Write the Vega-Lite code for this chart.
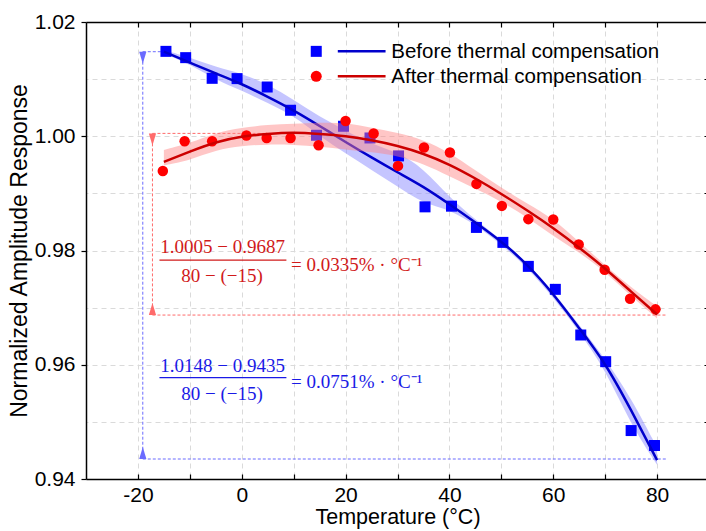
{
  "$schema": "https://vega.github.io/schema/vega-lite/v6.json",
  "autosize": "none",
  "width": 623,
  "height": 457,
  "padding": {"left": 86, "top": 22, "right": 0, "bottom": 52},
  "background": "white",
  "config": {
    "view": {"stroke": null},
    "axis": {
      "domainColor": "#000000",
      "domainWidth": 1.5,
      "tickColor": "#000000",
      "tickWidth": 1.2,
      "labelColor": "#000000",
      "titleColor": "#000000",
      "titleFontWeight": "normal",
      "gridColor": "#dadada",
      "gridDash": [5, 4],
      "gridWidth": 1
    }
  },
  "datasets": {
    "before": [
      {"T": -14.6, "v": 1.01486}, {"T": -10.8, "v": 1.01376}, {"T": -5.7, "v": 1.01014},
      {"T": -0.9, "v": 1.01009}, {"T": 4.9, "v": 1.00862}, {"T": 9.4, "v": 1.00455},
      {"T": 14.4, "v": 1.00017}, {"T": 19.6, "v": 1.00175}, {"T": 24.7, "v": 0.9997},
      {"T": 30.2, "v": 0.99656}, {"T": 35.3, "v": 0.98764}, {"T": 40.4, "v": 0.98776},
      {"T": 45.2, "v": 0.98404}, {"T": 50.3, "v": 0.98142}, {"T": 55.2, "v": 0.97722},
      {"T": 60.4, "v": 0.9732}, {"T": 65.3, "v": 0.96521}, {"T": 70.1, "v": 0.96054},
      {"T": 75.0, "v": 0.94848}, {"T": 79.5, "v": 0.94586}
    ],
    "after": [
      {"T": -15.2, "v": 0.99393}, {"T": -11.0, "v": 0.99913}, {"T": -5.7, "v": 0.99913},
      {"T": 0.9, "v": 1.00012}, {"T": 4.8, "v": 0.9997}, {"T": 9.4, "v": 0.9997},
      {"T": 14.8, "v": 0.99843}, {"T": 20.0, "v": 1.00267}, {"T": 25.4, "v": 1.00047},
      {"T": 30.1, "v": 0.99481}, {"T": 35.1, "v": 0.99802}, {"T": 40.1, "v": 0.99715},
      {"T": 45.2, "v": 0.99166}, {"T": 50.1, "v": 0.98781}, {"T": 55.2, "v": 0.98549},
      {"T": 60.0, "v": 0.98544}, {"T": 64.9, "v": 0.98107}, {"T": 69.9, "v": 0.97663},
      {"T": 74.8, "v": 0.97156}, {"T": 79.7, "v": 0.9697}
    ],
    "fitBefore": [
      {"T": -15, "v": 1.0148, "lo": 1.0145, "hi": 1.0151},
      {"T": -10, "v": 1.0129, "lo": 1.0126, "hi": 1.0138},
      {"T": -5, "v": 1.0110, "lo": 1.0099, "hi": 1.0121},
      {"T": 0, "v": 1.0091, "lo": 1.0080, "hi": 1.0110},
      {"T": 5, "v": 1.0069, "lo": 1.0058, "hi": 1.0091},
      {"T": 10, "v": 1.0045, "lo": 1.0036, "hi": 1.0064},
      {"T": 15, "v": 1.0018, "lo": 1.0000, "hi": 1.0034},
      {"T": 20, "v": 0.9990, "lo": 0.9970, "hi": 1.0010},
      {"T": 25, "v": 0.9963, "lo": 0.9941, "hi": 0.9986},
      {"T": 30, "v": 0.9937, "lo": 0.9912, "hi": 0.9972},
      {"T": 35, "v": 0.9911, "lo": 0.9882, "hi": 0.9944},
      {"T": 40, "v": 0.9881, "lo": 0.9872, "hi": 0.9893},
      {"T": 45, "v": 0.9849, "lo": 0.9845, "hi": 0.9854},
      {"T": 50, "v": 0.9815, "lo": 0.9811, "hi": 0.9819},
      {"T": 55, "v": 0.9774, "lo": 0.9770, "hi": 0.9778},
      {"T": 60, "v": 0.9723, "lo": 0.9718, "hi": 0.9728},
      {"T": 65, "v": 0.9664, "lo": 0.9658, "hi": 0.9670},
      {"T": 70, "v": 0.9600, "lo": 0.9592, "hi": 0.9610},
      {"T": 75, "v": 0.9520, "lo": 0.9494, "hi": 0.9542},
      {"T": 80, "v": 0.9433, "lo": 0.9425, "hi": 0.9455}
    ],
    "fitAfter": [
      {"T": -15, "v": 0.9955, "lo": 0.9949, "hi": 0.9976},
      {"T": -10, "v": 0.9973, "lo": 0.9958, "hi": 0.9988},
      {"T": -5, "v": 0.9989, "lo": 0.9976, "hi": 1.0006},
      {"T": 0, "v": 0.9999, "lo": 0.9983, "hi": 1.0015},
      {"T": 5, "v": 1.0004, "lo": 0.9986, "hi": 1.0020},
      {"T": 10, "v": 1.0006, "lo": 0.9985, "hi": 1.0022},
      {"T": 15, "v": 1.0004, "lo": 0.9982, "hi": 1.0024},
      {"T": 20, "v": 1.0000, "lo": 0.9977, "hi": 1.0024},
      {"T": 25, "v": 0.9993, "lo": 0.9972, "hi": 1.0015},
      {"T": 30, "v": 0.9983, "lo": 0.9966, "hi": 1.0006},
      {"T": 35, "v": 0.9969, "lo": 0.9952, "hi": 0.9994},
      {"T": 40, "v": 0.9950, "lo": 0.9930, "hi": 0.9972},
      {"T": 45, "v": 0.9926, "lo": 0.9908, "hi": 0.9940},
      {"T": 50, "v": 0.9899, "lo": 0.9886, "hi": 0.9910},
      {"T": 55, "v": 0.9870, "lo": 0.9858, "hi": 0.9882},
      {"T": 60, "v": 0.9839, "lo": 0.9825, "hi": 0.9856},
      {"T": 65, "v": 0.9805, "lo": 0.9797, "hi": 0.9815},
      {"T": 70, "v": 0.9768, "lo": 0.9763, "hi": 0.9774},
      {"T": 75, "v": 0.9728, "lo": 0.9720, "hi": 0.9735},
      {"T": 80, "v": 0.9688, "lo": 0.9681, "hi": 0.9702}
    ],
    "guides": [
      {"series": "before", "T": -19.06, "T2": -19.06, "v": 1.0148, "v2": 0.9435},
      {"series": "before", "T": -19.06, "T2": -14.6, "v": 1.0148, "v2": 1.0148},
      {"series": "before", "T": -19.06, "T2": 82, "v": 0.9435, "v2": 0.9435},
      {"series": "after", "T": -17.2, "T2": -17.2, "v": 1.0005, "v2": 0.9687},
      {"series": "after", "T": -17.2, "T2": 12, "v": 1.0005, "v2": 1.0005},
      {"series": "after", "T": -17.2, "T2": 82, "v": 0.9687, "v2": 0.9687}
    ],
    "arrowsDown": [
      {"series": "before", "T": -19.06, "v": 1.0148},
      {"series": "after", "T": -17.2, "v": 1.0005}
    ],
    "arrowsUp": [
      {"series": "before", "T": -19.06, "v": 0.9435},
      {"series": "after", "T": -17.2, "v": 0.9687}
    ],
    "fractionBars": [
      {"series": "after", "T": -15.85, "T2": 8.6, "v": 0.97832},
      {"series": "before", "T": -15.85, "T2": 8.6, "v": 0.95774}
    ],
    "fractionText": [
      {"series": "after", "T": -3.7, "v": 0.97949, "text": "1.0005 − 0.9687"},
      {"series": "after", "T": -3.8, "v": 0.97453, "text": "80 − (−15)"},
      {"series": "before", "T": -3.7, "v": 0.95879, "text": "1.0148 − 0.9435"},
      {"series": "before", "T": -3.8, "v": 0.95385, "text": "80 − (−15)"}
    ],
    "resultText": [
      {"series": "after", "T": 9.5, "v": 0.97745, "text": "= 0.0335% · °C⁻¹"},
      {"series": "before", "T": 9.5, "v": 0.95694, "text": "= 0.0751% · °C⁻¹"}
    ],
    "legendRows": [
      {"series": "before", "T": 14.35, "Tl": 18.5, "Tl2": 27.7, "Tt": 28.8, "v": 1.01486, "label": "Before thermal compensation"},
      {"series": "after", "T": 14.35, "Tl": 18.5, "Tl2": 27.7, "Tt": 28.8, "v": 1.01049, "label": "After thermal compensation"}
    ]
  },
  "layer": [
    {
      "data": {"name": "fitBefore"},
      "mark": {"type": "area", "color": "#8c8cff", "opacity": 0.5, "interpolate": "basis"},
      "encoding": {
        "x": {"field": "T", "type": "quantitative", "scale": {"domain": [-30, 90], "nice": false},
          "axis": {
            "orient": "bottom",
            "values": [-20, -10, 0, 10, 20, 30, 40, 50, 60, 70, 80],
            "labelExpr": "datum.value % 20 === 0 ? '' + datum.value : ''",
            "tickSize": -5,
            "grid": true,
            "labelFont": "Liberation Sans, Arial",
            "labelFontSize": 21,
            "labelPadding": 10,
            "labelFlush": false,
            "title": "Temperature (°C)",
            "titleFont": "Liberation Sans, Arial",
            "titleFontSize": 21.5,
            "titlePadding": 1
          }},
        "y": {"field": "lo", "type": "quantitative", "scale": {"domain": [0.94, 1.02], "nice": false, "zero": false},
          "axis": {
            "orient": "left",
            "values": [0.94, 0.96, 0.98, 1.0, 1.02],
            "format": ".2f",
            "tickSize": 5,
            "grid": false,
            "labelFont": "Liberation Sans, Arial",
            "labelFontSize": 21,
            "labelPadding": 6,
            "labelFlush": false,
            "title": "Normalized Amplitude Response",
            "titleFont": "Liberation Sans, Arial",
            "titleFontSize": 23,
            "titlePadding": 3
          }},
        "y2": {"field": "hi"}
      }
    },
    {
      "data": {"name": "fitBefore"},
      "mark": {"type": "rule", "strokeWidth": 0},
      "encoding": {
        "x": {"field": "T", "type": "quantitative",
          "axis": {
            "orient": "top",
            "values": [-20, -10, 0, 10, 20, 30, 40, 50, 60, 70, 80],
            "labels": false,
            "tickSize": -5,
            "grid": false,
            "title": null
          }},
        "y": {"field": "v", "type": "quantitative",
          "axis": {
            "orient": "right",
            "values": [0.95, 0.96, 0.97, 0.98, 0.99, 1.0, 1.01],
            "labels": false,
            "tickSize": -5,
            "grid": true,
            "title": null
          }}
      }
    },
    {
      "data": {"name": "guides"},
      "mark": {"type": "rule", "strokeDash": [3, 2], "strokeWidth": 1},
      "encoding": {
        "x": {"field": "T", "type": "quantitative", "axis": null},
        "x2": {"field": "T2"},
        "y": {"field": "v", "type": "quantitative", "axis": null},
        "y2": {"field": "v2"},
        "color": {"field": "series", "type": "nominal", "legend": null,
          "scale": {"domain": ["before", "after"], "range": ["#6b6bff", "#ff6b6b"]}}
      }
    },
    {
      "data": {"name": "arrowsDown"},
      "mark": {"type": "point", "shape": "M-0.6,-1L0.6,-1L0,1Z", "size": 144, "filled": true, "opacity": 1, "yOffset": 6},
      "encoding": {
        "x": {"field": "T", "type": "quantitative", "axis": null},
        "y": {"field": "v", "type": "quantitative", "axis": null},
        "color": {"field": "series", "type": "nominal", "legend": null,
          "scale": {"domain": ["before", "after"], "range": ["#6b6bff", "#ff6b6b"]}}
      }
    },
    {
      "data": {"name": "arrowsUp"},
      "mark": {"type": "point", "shape": "M-0.6,1L0.6,1L0,-1Z", "size": 144, "filled": true, "opacity": 1, "yOffset": -6},
      "encoding": {
        "x": {"field": "T", "type": "quantitative", "axis": null},
        "y": {"field": "v", "type": "quantitative", "axis": null},
        "color": {"field": "series", "type": "nominal", "legend": null,
          "scale": {"domain": ["before", "after"], "range": ["#6b6bff", "#ff6b6b"]}}
      }
    },
    {
      "data": {"name": "before"},
      "mark": {"type": "point", "shape": "square", "size": 121, "filled": true, "color": "#0000ff", "opacity": 1},
      "encoding": {
        "x": {"field": "T", "type": "quantitative", "axis": null},
        "y": {"field": "v", "type": "quantitative", "axis": null}
      }
    },
    {
      "data": {"name": "fitBefore"},
      "mark": {"type": "line", "color": "#0000cc", "strokeWidth": 2.5, "interpolate": "natural"},
      "encoding": {
        "x": {"field": "T", "type": "quantitative", "axis": null},
        "y": {"field": "v", "type": "quantitative", "axis": null}
      }
    },
    {
      "data": {"name": "fitAfter"},
      "mark": {"type": "area", "color": "#ff8080", "opacity": 0.45, "interpolate": "basis"},
      "encoding": {
        "x": {"field": "T", "type": "quantitative", "axis": null},
        "y": {"field": "lo", "type": "quantitative", "axis": null},
        "y2": {"field": "hi"}
      }
    },
    {
      "data": {"name": "after"},
      "mark": {"type": "point", "shape": "circle", "size": 110, "filled": true, "color": "#ff0000", "opacity": 1},
      "encoding": {
        "x": {"field": "T", "type": "quantitative", "axis": null},
        "y": {"field": "v", "type": "quantitative", "axis": null}
      }
    },
    {
      "data": {"name": "fitAfter"},
      "mark": {"type": "line", "color": "#cc0000", "strokeWidth": 2.5, "interpolate": "natural"},
      "encoding": {
        "x": {"field": "T", "type": "quantitative", "axis": null},
        "y": {"field": "v", "type": "quantitative", "axis": null}
      }
    },
    {
      "data": {"name": "fractionBars"},
      "mark": {"type": "rule", "strokeWidth": 1.2},
      "encoding": {
        "x": {"field": "T", "type": "quantitative", "axis": null},
        "x2": {"field": "T2"},
        "y": {"field": "v", "type": "quantitative", "axis": null},
        "color": {"field": "series", "type": "nominal", "legend": null,
          "scale": {"domain": ["before", "after"], "range": ["#1a1ae6", "#d11a1a"]}}
      }
    },
    {
      "data": {"name": "fractionText"},
      "mark": {"type": "text", "font": "Liberation Serif, Times New Roman", "fontSize": 19, "align": "center", "baseline": "alphabetic"},
      "encoding": {
        "x": {"field": "T", "type": "quantitative", "axis": null},
        "y": {"field": "v", "type": "quantitative", "axis": null},
        "text": {"field": "text"},
        "color": {"field": "series", "type": "nominal", "legend": null,
          "scale": {"domain": ["before", "after"], "range": ["#1a1ae6", "#d11a1a"]}}
      }
    },
    {
      "data": {"name": "resultText"},
      "mark": {"type": "text", "font": "Liberation Serif, Times New Roman", "fontSize": 19, "align": "left", "baseline": "middle"},
      "encoding": {
        "x": {"field": "T", "type": "quantitative", "axis": null},
        "y": {"field": "v", "type": "quantitative", "axis": null},
        "text": {"field": "text"},
        "color": {"field": "series", "type": "nominal", "legend": null,
          "scale": {"domain": ["before", "after"], "range": ["#1a1ae6", "#d11a1a"]}}
      }
    },
    {
      "data": {"name": "legendRows"},
      "mark": {"type": "rule", "strokeWidth": 2.5},
      "encoding": {
        "x": {"field": "Tl", "type": "quantitative", "axis": null},
        "x2": {"field": "Tl2"},
        "y": {"field": "v", "type": "quantitative", "axis": null},
        "color": {"field": "series", "type": "nominal", "legend": null,
          "scale": {"domain": ["before", "after"], "range": ["#0000cc", "#cc0000"]}}
      }
    },
    {
      "data": {"name": "legendRows"},
      "mark": {"type": "point", "size": 121, "filled": true, "opacity": 1},
      "encoding": {
        "x": {"field": "T", "type": "quantitative", "axis": null},
        "y": {"field": "v", "type": "quantitative", "axis": null},
        "shape": {"field": "series", "type": "nominal", "legend": null,
          "scale": {"domain": ["before", "after"], "range": ["square", "circle"]}},
        "color": {"field": "series", "type": "nominal", "legend": null,
          "scale": {"domain": ["before", "after"], "range": ["#0000ff", "#ff0000"]}}
      }
    },
    {
      "data": {"name": "legendRows"},
      "mark": {"type": "text", "font": "Liberation Sans, Arial", "fontSize": 20.5, "align": "left", "baseline": "middle", "color": "#000000", "dy": 1},
      "encoding": {
        "x": {"field": "Tt", "type": "quantitative", "axis": null},
        "y": {"field": "v", "type": "quantitative", "axis": null},
        "text": {"field": "label"}
      }
    }
  ],
  "resolve": {"axis": {"x": "independent", "y": "independent"}, "scale": {"color": "independent", "shape": "independent"}}
}
